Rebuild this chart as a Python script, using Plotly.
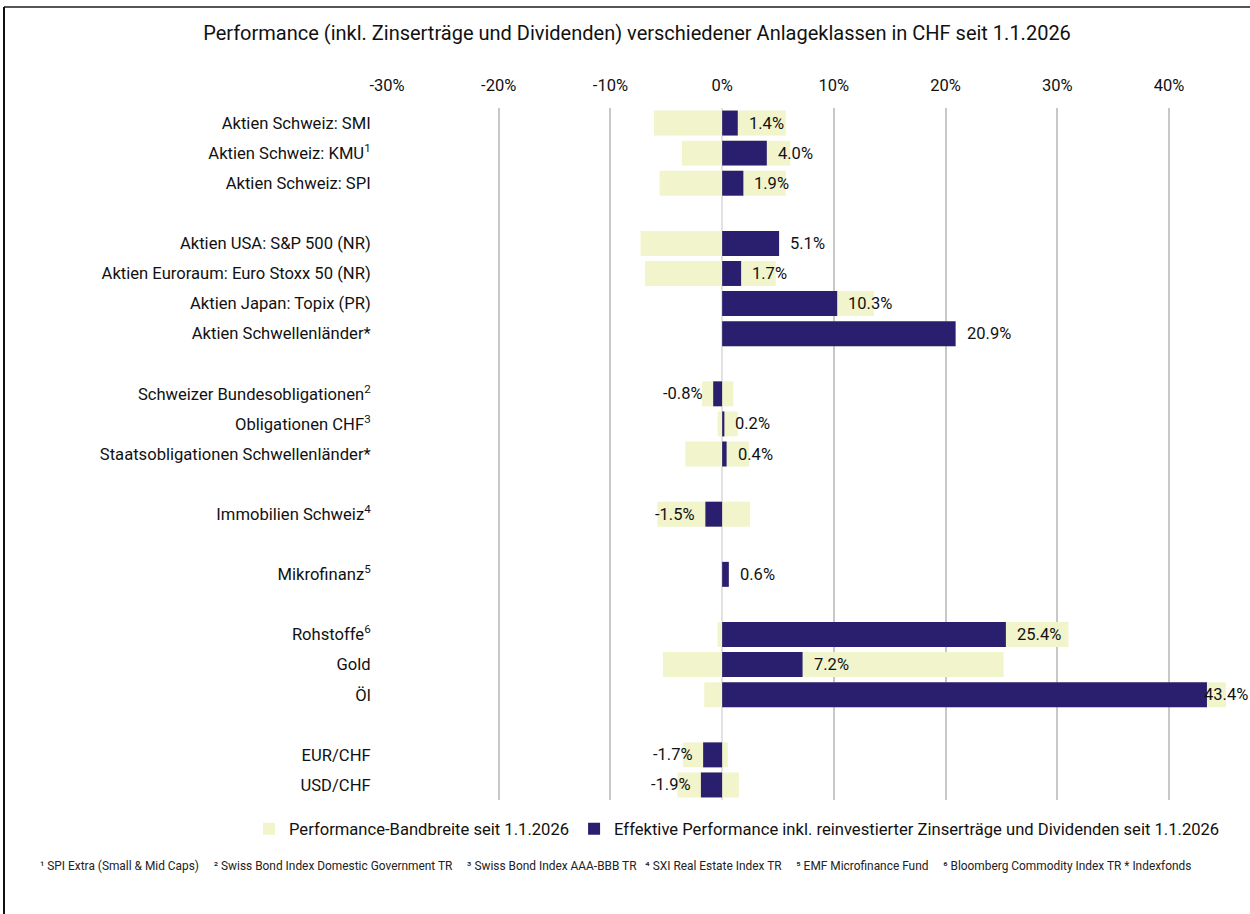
import plotly.graph_objects as go

# ---------------- data ----------------
categories = [
    "Aktien Schweiz: SMI",
    "Aktien Schweiz: KMU<sup>1</sup>",
    "Aktien Schweiz: SPI",
    "Aktien USA: S&P 500 (NR)",
    "Aktien Euroraum: Euro Stoxx 50 (NR)",
    "Aktien Japan: Topix (PR)",
    "Aktien Schwellenländer*",
    "Schweizer Bundesobligationen<sup>2</sup>",
    "Obligationen CHF<sup>3</sup>",
    "Staatsobligationen Schwellenländer*",
    "Immobilien Schweiz<sup>4</sup>",
    "Mikrofinanz<sup>5</sup>",
    "Rohstoffe<sup>6</sup>",
    "Gold",
    "Öl",
    "EUR/CHF",
    "USD/CHF",
]
# category order including blank spacer rows between groups
category_order = [
    "Aktien Schweiz: SMI", "Aktien Schweiz: KMU<sup>1</sup>", "Aktien Schweiz: SPI",
    " ",
    "Aktien USA: S&P 500 (NR)", "Aktien Euroraum: Euro Stoxx 50 (NR)",
    "Aktien Japan: Topix (PR)", "Aktien Schwellenländer*",
    "  ",
    "Schweizer Bundesobligationen<sup>2</sup>", "Obligationen CHF<sup>3</sup>",
    "Staatsobligationen Schwellenländer*",
    "   ",
    "Immobilien Schweiz<sup>4</sup>",
    "    ",
    "Mikrofinanz<sup>5</sup>",
    "     ",
    "Rohstoffe<sup>6</sup>", "Gold", "Öl",
    "      ",
    "EUR/CHF", "USD/CHF",
]
effective = [1.4, 4.0, 1.9, 5.1, 1.7, 10.3, 20.9, -0.8, 0.2, 0.4, -1.5, 0.6, 25.4, 7.2, 43.4, -1.7, -1.9]
range_min = [-6.1, -3.6, -5.6, -7.3, -6.9, 0.0, 0.0, -1.8, -0.4, -3.3, -5.8, 0.0, -0.4, -5.3, -1.6, -3.5, -4.0]
range_max = [5.7, 6.1, 5.7, 5.1, 4.8, 13.6, 20.9, 1.0, 1.4, 2.4, 2.5, 0.6, 31.0, 25.2, 45.1, 0.5, 1.5]

tick_vals = [-30, -20, -10, 0, 10, 20, 30, 40]
tick_text = ["-30%", "-20%", "-10%", "0%", "10%", "20%", "30%", "40%"]
x_range = [-30, 46]

title_text = "Performance (inkl. Zinserträge und Dividenden) verschiedener Anlageklassen in CHF seit 1.1.2026"
legend_range = "Performance-Bandbreite seit 1.1.2026"
legend_eff = "Effektive Performance inkl. reinvestierter Zinserträge und Dividenden seit 1.1.2026"
GAP = "\u00a0" * 5
footnote = ("¹ SPI Extra (Small & Mid Caps)" + GAP + "² Swiss Bond Index Domestic Government TR" + GAP +
            "³ Swiss Bond Index AAA-BBB TR\u00a0\u00a0 ⁴ SXI Real Estate Index TR" + GAP + "⁵ EMF Microfinance Fund" + GAP +
            "⁶ Bloomberg Commodity Index TR * Indexfonds")

# ---------------- layout constants ----------------
W, H = 1250, 914
ML, MR, MT, MB = 387, 14, 108, 114
PW, PH = W - ML - MR, H - MT - MB
FONT = "Roboto, Arial, sans-serif"
DARK = "#2a1e6f"
LIGHT = "#f2f4cc"


def px_x(px):
    return (px - ML) / PW


def px_y(py):
    return (H - MB - py) / PH


fig = go.Figure()
fig.add_trace(go.Bar(
    y=categories, x=[hi - lo for lo, hi in zip(range_min, range_max)], base=range_min,
    orientation="h", marker=dict(color=LIGHT, line=dict(width=0)), width=0.83,
    name=legend_range, hoverinfo="skip",
))
fig.add_trace(go.Bar(
    y=categories, x=effective, orientation="h",
    marker=dict(color=DARK, line=dict(width=0)), width=0.83,
    name=legend_eff, hoverinfo="skip",
))

# value labels
for cat, v in zip(categories, effective):
    label = f"{v:.1f}%"
    if v >= 0:
        # keep label inside canvas if it would overflow the right edge
        if v > 40:
            fig.add_annotation(x=px_x(W), xref="paper", y=cat, yref="y", text=label,
                               showarrow=False, xanchor="right", yanchor="middle",
                               font=dict(family=FONT, size=16.5, color="#111"))
        else:
            fig.add_annotation(x=v, y=cat, text=label, showarrow=False, xanchor="left",
                               yanchor="middle", xshift=9,
                               font=dict(family=FONT, size=16.5, color="#111"))
    else:
        fig.add_annotation(x=v, y=cat, text=label, showarrow=False, xanchor="right",
                           yanchor="middle", xshift=-8,
                           font=dict(family=FONT, size=16.5, color="#111"))

# footnote
fig.add_annotation(x=px_x(38), xref="paper", y=px_y(866), yref="paper", text=footnote,
                   showarrow=False, xanchor="left", yanchor="middle",
                   font=dict(family=FONT, size=11.9, color="#222"))

# partial frame (top and left edges)
fig.add_shape(type="line", xref="paper", yref="paper", x0=px_x(4), x1=px_x(W), y0=px_y(7), y1=px_y(7),
              line=dict(color="#555", width=2))
fig.add_shape(type="line", xref="paper", yref="paper", x0=px_x(4), x1=px_x(4), y0=px_y(7), y1=px_y(H),
              line=dict(color="#111", width=2))

fig.update_layout(
    width=W, height=H,
    margin=dict(l=ML, r=MR, t=MT, b=MB),
    paper_bgcolor="white", plot_bgcolor="white",
    barmode="overlay",
    font=dict(family=FONT, size=16, color="#111"),
    title=dict(text=title_text, x=637 / W, xanchor="center", y=1 - 33 / H, yanchor="middle",
               font=dict(family=FONT, size=20, color="#111")),
    showlegend=True,
    legend=dict(orientation="h", x=px_x(249), xanchor="left", y=px_y(829), yanchor="middle",
                font=dict(family=FONT, size=16.6, color="#111"), traceorder="normal",
                itemwidth=30, bgcolor="rgba(0,0,0,0)"),
    xaxis=dict(range=x_range, side="top", tickvals=tick_vals, ticktext=tick_text,
               showgrid=True, gridcolor="#c8c8c8", gridwidth=2,
               zeroline=True, zerolinecolor="#e2e2e2", zerolinewidth=1.5,
               showline=False, ticks="", ticklabelstandoff=13,
               tickfont=dict(family=FONT, size=16.5, color="#111"), fixedrange=True),
    yaxis=dict(categoryorder="array", categoryarray=category_order, type="category",
               range=[len(category_order) - 0.5, -0.5],
               showgrid=False, zeroline=False, showline=False,
               ticks="outside", ticklen=12, tickcolor="rgba(0,0,0,0)",
               tickfont=dict(family=FONT, size=16.6, color="#111"), fixedrange=True),
)

fig.write_html("out.html")
